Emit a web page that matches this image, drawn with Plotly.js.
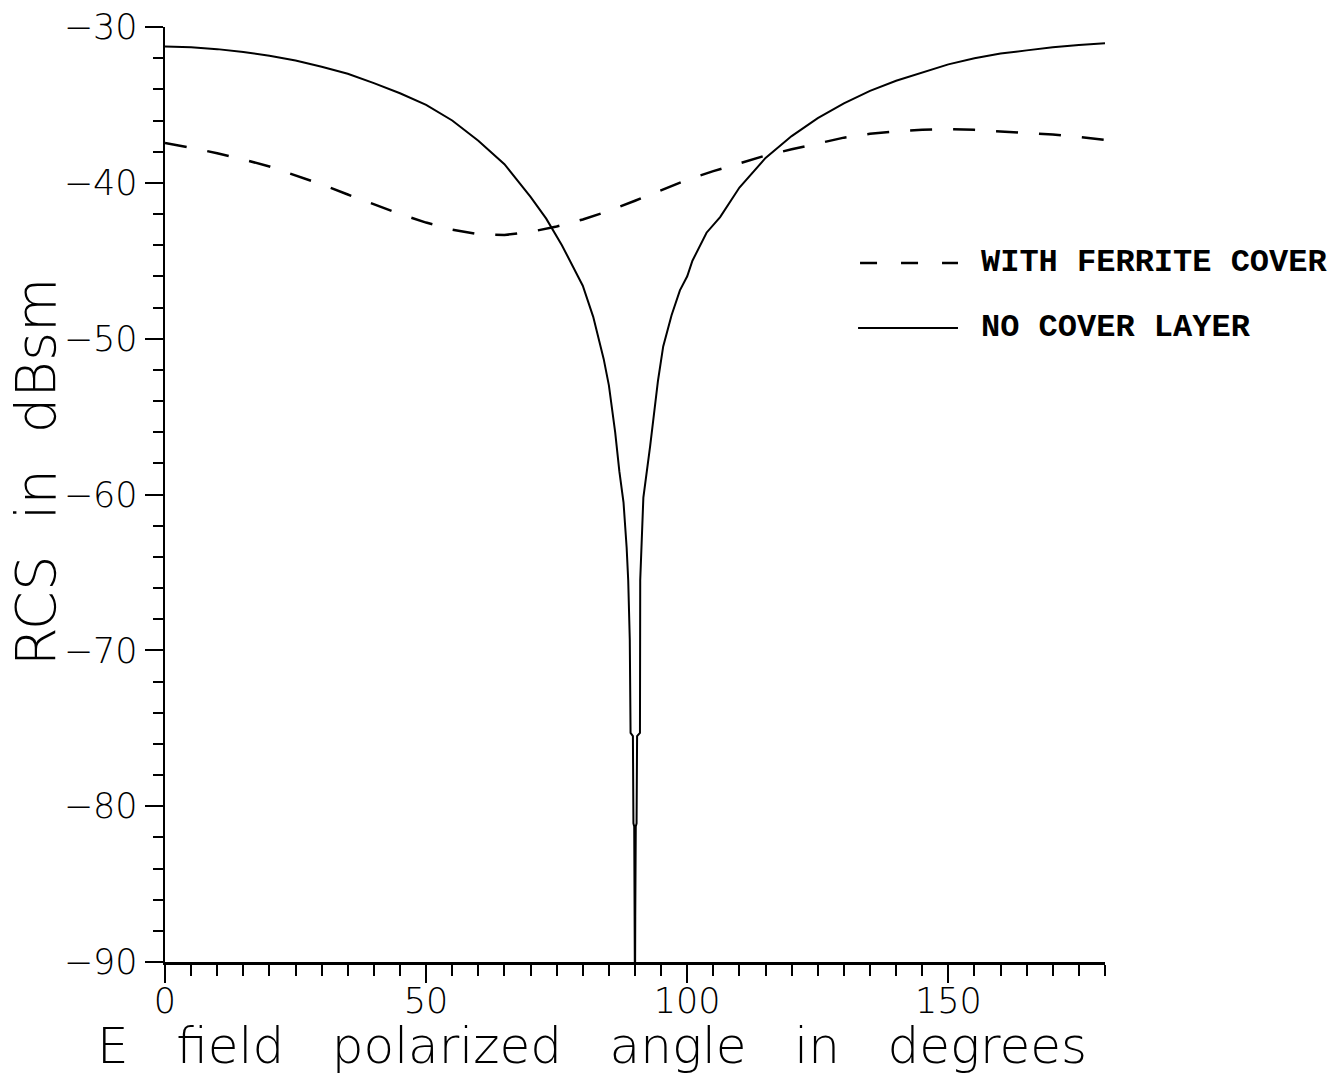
<!DOCTYPE html>
<html>
<head>
<meta charset="utf-8">
<script src="https://cdn.plot.ly/plotly-3.0.1.min.js"></script>
<style>html,body{margin:0;padding:0;background:#fff;}#chart{width:1332px;height:1077px;}</style>
</head>
<body>
<div id="chart"></div>
<script>
// E field polarized angle (degrees) and RCS (dBsm)
const ferriteAngle = [0,5,10,15,20,25,30,35,40,45,50,55,60,65,70,75,80,85,90,95,100,105,110,115,120,125,130,135,140,145,150,155,160,165,170,175,180];
const ferriteRCS   = [-37.45,-37.75,-38.1,-38.5,-38.95,-39.5,-40.1,-40.75,-41.4,-42.0,-42.55,-43.0,-43.3,-43.35,-43.15,-42.8,-42.35,-41.8,-41.15,-40.45,-39.8,-39.25,-38.75,-38.25,-37.85,-37.45,-37.1,-36.85,-36.7,-36.6,-36.55,-36.6,-36.7,-36.8,-36.9,-37.05,-37.25];

const noCoverAngle = [0,5,10,15,20,25,30,35,40,45,50,55,60,65,70,73,76,78,80,82,84,85,86.2,87.0,87.8,88.4,88.7,89.0,89.15,89.6,89.7,89.85,89.95,90.0,90.05,90.15,90.3,90.4,90.95,91.0,91.0,91.6,92.9,94.4,95.4,97,98.6,100,101,103.7,106.3,110,115,120,125,130,135,140,145,150,155,160,165,170,175,180];
const noCoverRCS   = [-31.25,-31.3,-31.42,-31.6,-31.85,-32.15,-32.55,-33.0,-33.6,-34.25,-35.0,-36.0,-37.3,-38.8,-40.9,-42.3,-44.0,-45.3,-46.6,-48.6,-51.3,-53.0,-56.0,-58.5,-60.5,-63.4,-65.5,-69.3,-75.3,-75.5,-81.1,-81.3,-87.1,-93,-87.1,-81.3,-81.1,-75.5,-75.3,-69.3,-65.5,-60.2,-56.9,-52.7,-50.5,-48.5,-46.9,-46.0,-45.0,-43.2,-42.2,-40.3,-38.4,-37.0,-35.85,-34.9,-34.1,-33.45,-32.9,-32.4,-32.0,-31.7,-31.5,-31.3,-31.15,-31.05];

const seriesNames = ['WITH FERRITE COVER', 'NO COVER LAYER'];
const xTitle = 'E\u00a0\u00a0 field\u00a0\u00a0 polarized\u00a0\u00a0 angle\u00a0\u00a0 in\u00a0\u00a0 degrees';
const yTitle = 'RCS\u00a0 in\u00a0 dBsm';

const tickFont = {family: 'DejaVu Sans', size: 35, color: '#000', weight: 200};
const titleFont = {family: 'DejaVu Sans', size: 56, color: '#000', weight: 200};
const xTitleFont = {family: 'DejaVu Sans', size: 50, color: '#000', weight: 200};
const legendFont = {family: 'Liberation Mono', size: 32, color: '#000', weight: 'bold'};

const traces = [
  {x: ferriteAngle, y: ferriteRCS, name: seriesNames[0], mode: 'lines', type: 'scatter',
   line: {color: '#000', width: 2.5, dash: '22px,21px'}, showlegend: false, hoverinfo: 'skip'},
  {x: noCoverAngle, y: noCoverRCS, name: seriesNames[1], mode: 'lines', type: 'scatter',
   line: {color: '#000', width: 2}, showlegend: false, hoverinfo: 'skip'}
];

const layout = {
  width: 1332, height: 1077,
  margin: {l: 165, r: 227, t: 27, b: 115},
  paper_bgcolor: '#fff', plot_bgcolor: '#fff',
  showlegend: false,
  xaxis: {
    range: [0, 180], dtick: 50, tick0: 0, showgrid: false, zeroline: false,
    showline: true, linecolor: '#000', linewidth: 2.5, mirror: false,
    ticks: 'outside', ticklen: 18, tickwidth: 2, tickcolor: '#000',
    tickfont: tickFont, ticklabelstandoff: -12,
    minor: {dtick: 5, tick0: 0, ticks: 'outside', ticklen: 11, tickwidth: 2, tickcolor: '#000', showgrid: false}
  },
  yaxis: {
    range: [-90, -30], dtick: 10, tick0: -90, showgrid: false, zeroline: false,
    showline: true, linecolor: '#000', linewidth: 2.5, mirror: false,
    ticks: 'outside', ticklen: 18, tickwidth: 2, tickcolor: '#000',
    tickfont: tickFont,
    minor: {dtick: 2, tick0: -90, ticks: 'outside', ticklen: 10, tickwidth: 2, tickcolor: '#000', showgrid: false}
  },
  shapes: [
    {type: 'line', xref: 'paper', yref: 'paper', x0: 0.7394, x1: 0.8436, y0: 0.7476, y1: 0.7476,
     line: {color: '#000', width: 2.5, dash: '17px,24px'}},
    {type: 'line', xref: 'paper', yref: 'paper', x0: 0.7373, x1: 0.8436, y0: 0.6781, y1: 0.6781,
     line: {color: '#000', width: 2}}
  ],
  annotations: [
    {xref: 'paper', yref: 'paper', x: 0.866, y: 0.7476, xanchor: 'left', yanchor: 'middle',
     text: seriesNames[0], showarrow: false, font: legendFont},
    {xref: 'paper', yref: 'paper', x: 0.866, y: 0.6781, xanchor: 'left', yanchor: 'middle',
     text: seriesNames[1], showarrow: false, font: legendFont},
    {xref: 'paper', yref: 'paper', x: 0.454, y: -0.0895, xanchor: 'center', yanchor: 'middle',
     text: xTitle, showarrow: false, font: xTitleFont},
    {xref: 'paper', yref: 'paper', x: -0.138, y: 0.524, xanchor: 'center', yanchor: 'middle',
     textangle: -90, text: yTitle, showarrow: false, font: titleFont}
  ]
};

Plotly.newPlot('chart', traces, layout, {staticPlot: true, displayModeBar: false});
</script>
</body>
</html>
